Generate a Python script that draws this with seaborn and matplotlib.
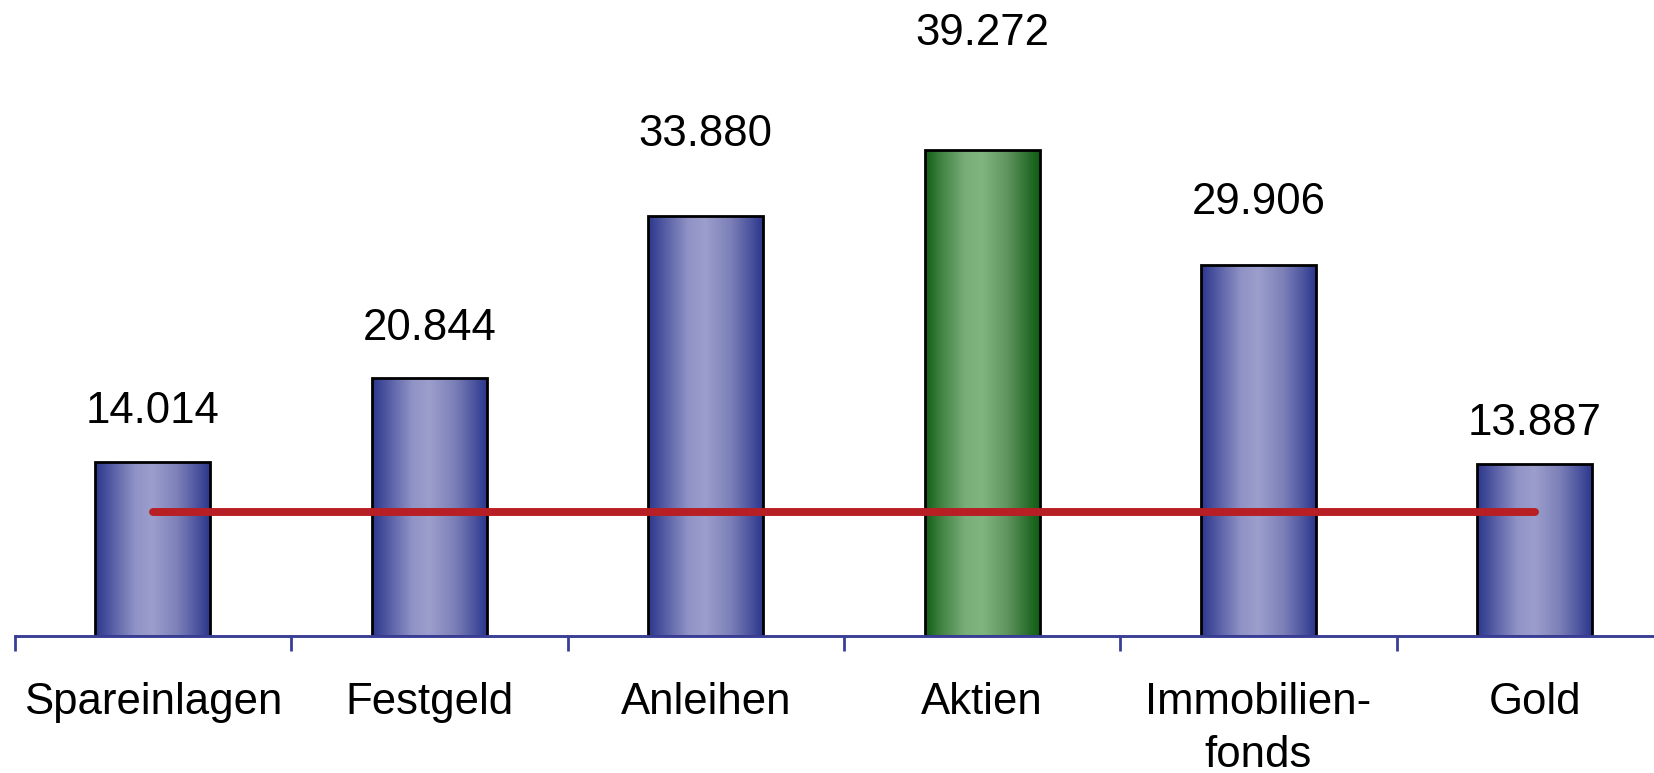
import numpy as np
import pandas as pd
import matplotlib
matplotlib.use("Agg")
import matplotlib.pyplot as plt
import seaborn as sns
from matplotlib.colors import LinearSegmentedColormap

# Data
categories = ["Spareinlagen", "Festgeld", "Anleihen", "Aktien", "Immobilien-\nfonds", "Gold"]
values = [14014, 20844, 33880, 39272, 29906, 13887]
highlight = "Aktien"
reference_value = 10000

# Vertical offset (pixels) of each value label above its bar
label_offset_px = [51, 49, 82, 116, 63, 40]

df = pd.DataFrame({"Anlage": categories, "Wert": values})

sns.set_theme(style="white")
plt.rcParams["font.family"] = ["Liberation Sans", "DejaVu Sans"]

W, H = 1654, 773
fig = plt.figure(figsize=(W / 100, H / 100), dpi=100)
fig.patch.set_facecolor("white")
ax = fig.add_axes([14.7 / W, 137.3 / H, 1658.4 / W, 635.7 / H])
ax.set_facecolor("white")

sns.barplot(data=df, x="Anlage", y="Wert", ax=ax, width=0.416,
            color="#6F74B0", saturation=1, edgecolor="black", linewidth=2.0,
            zorder=2)

ymax = 51350
ax.set_xlim(-0.5, len(categories) - 0.5)
ax.set_ylim(0, ymax)

# Cylinder-like horizontal gradients
blue = LinearSegmentedColormap.from_list("blue_bar", [
    (0.00, "#2C378C"), (0.12, "#4E56A0"), (0.35, "#9093C6"),
    (0.50, "#9C9ECC"), (0.72, "#7C80B8"), (0.90, "#4A529E"), (1.00, "#2C378C")])
green = LinearSegmentedColormap.from_list("green_bar", [
    (0.00, "#0F5E14"), (0.12, "#3C7E3E"), (0.35, "#78AE78"),
    (0.50, "#80B580"), (0.72, "#5E945E"), (0.90, "#2A6E2C"), (1.00, "#0F5E14")])
grad = np.linspace(0, 1, 256).reshape(1, -1)

for cat, patch in zip(categories, ax.patches):
    x0, w, h = patch.get_x(), patch.get_width(), patch.get_height()
    cmap = green if cat == highlight else blue
    im = ax.imshow(grad, cmap=cmap, aspect="auto", extent=(x0, x0 + w, 0, h),
                   zorder=1.5, interpolation="bilinear")
    im.set_clip_path(patch)
    patch.set_facecolor("none")

ax.set_xlim(-0.5, len(categories) - 0.5)
ax.set_ylim(0, ymax)

# Reference line across the categories
ax.plot([0, len(categories) - 1], [reference_value, reference_value],
        color="#B71F24", lw=5.7, solid_capstyle="round", zorder=3)

# Value labels
for patch, v, off in zip(ax.patches, values, label_offset_px):
    cx = patch.get_x() + patch.get_width() / 2
    ax.annotate(f"{v:,}".replace(",", "."), xy=(cx, v),
                xytext=(0, off * 0.72), textcoords="offset points",
                ha="center", va="center", fontsize=31.5, color="black",
                annotation_clip=False)

# Axes styling
for s in ["left", "top", "right"]:
    ax.spines[s].set_visible(False)
axis_col = "#3A3F96"
ax.spines["bottom"].set_color(axis_col)
ax.spines["bottom"].set_linewidth(2.1)
ax.set_yticks([])
ax.set_xlabel("")
ax.set_ylabel("")
ax.set_xticks(range(len(categories)))
ax.set_xticklabels(categories, fontsize=31.5, color="black", linespacing=1.38)
ax.set_xticks(np.arange(-0.5, len(categories), 1.0), minor=True)
ax.tick_params(axis="x", which="major", length=0, pad=33)
ax.tick_params(axis="x", which="minor", length=10.8, width=2.0,
               color=axis_col, direction="out", bottom=True)

fig.savefig("out.png", dpi=100, facecolor="white")
